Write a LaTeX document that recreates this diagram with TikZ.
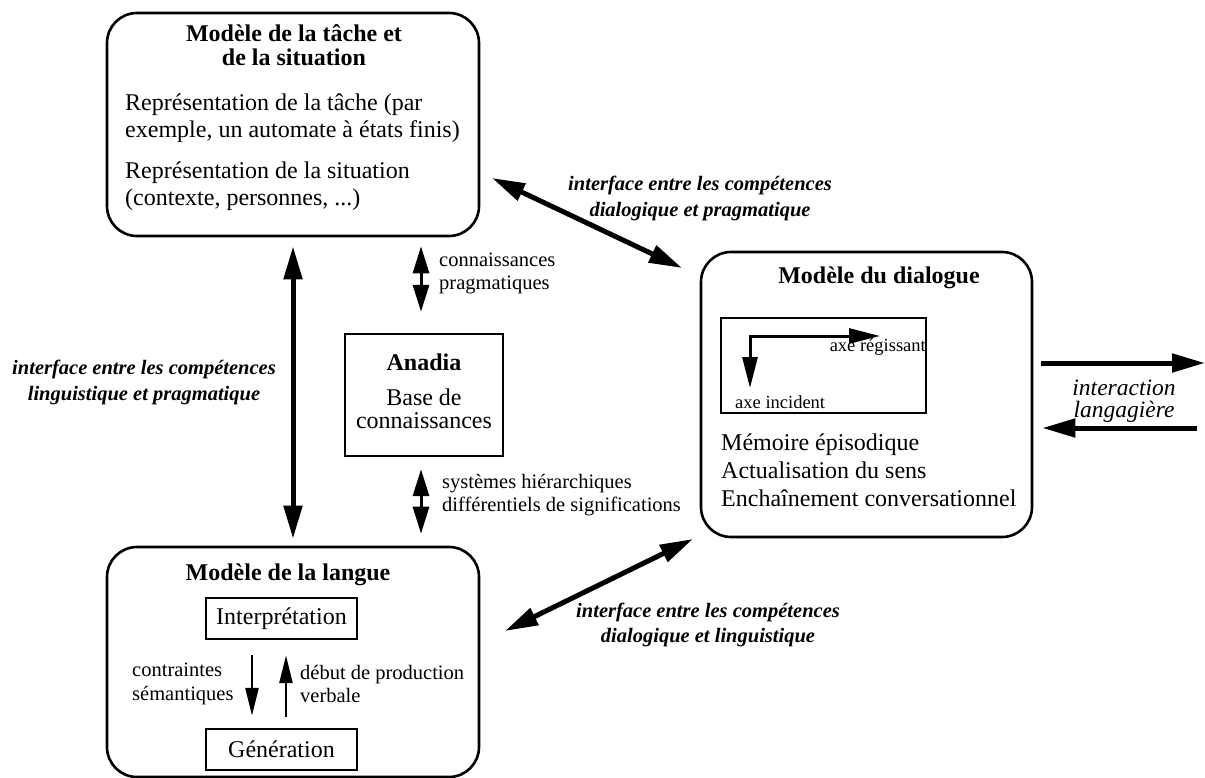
\documentclass[tikz,border=0pt]{standalone}
\usepackage{fontspec}
\setmainfont{Liberation Serif}
\usetikzlibrary{arrows.meta,calc}
\tikzset{
  bigtip/.tip={Triangle[length=33pt,width=18pt]},
  medtip/.tip={Triangle[length=27pt,width=16pt]},
  smalltip/.tip={Triangle[length=28pt,width=13pt]},
  elbtip/.tip={Triangle[length=31pt,width=15pt]},
  rbox/.style={draw, line width=2.6pt, rounded corners=30pt, inner sep=0pt},
  sbox/.style={draw, line width=2.4pt, inner sep=0pt},
  body/.style={inner sep=0pt, font=\fontsize{24}{27}\selectfont, align=left},
  title/.style={inner sep=0pt, font=\fontsize{24}{24}\selectfont\bfseries, align=center},
  small/.style={inner sep=0pt, font=\fontsize{20.5}{23.5}\selectfont, align=left},
  tiny/.style={inner sep=0pt, font=\fontsize{18.5}{20}\selectfont},
  iface/.style={inner sep=0pt, font=\fontsize{20.5}{25.5}\selectfont\bfseries\itshape, align=center},
  bigarr/.style={line width=5pt, bigtip-bigtip},
  medarr/.style={line width=3pt, medtip-medtip},
  smallarr/.style={line width=2.5pt, -smalltip},
  onearr/.style={line width=5pt, -bigtip},
  elbarr/.style={line width=3pt, elbtip-elbtip},
}
\begin{document}
\begin{tikzpicture}[x=1pt,y=-1pt]
\useasboundingbox (0,0) rectangle (1205,778);

% boxes
\node[rbox, minimum width=372pt, minimum height=223pt] (task) at (293,124.5) {};
\node[rbox, minimum width=372pt, minimum height=230pt] (lang) at (293,662) {};
\node[rbox, minimum width=331pt, minimum height=285pt] (dial) at (866.5,394.5) {};
\node[sbox, minimum width=158pt, minimum height=122pt] (anadia) at (424,395) {};
\node[sbox, minimum width=205pt, minimum height=95pt] (axes) at (823.5,365.5) {};
\node[sbox, minimum width=151pt, minimum height=41pt, font=\fontsize{24}{27}\selectfont] (interp) at (281.5,618.5) {Interprétation};
\node[sbox, minimum width=151pt, minimum height=41pt, font=\fontsize{24}{27}\selectfont] (gen) at (281.5,749.5) {Génération};

% task box texts
\node[title] (tasktitle) at (294,45) {Modèle de la tâche et\\de la situation};
\node[body, anchor=west] (taskrep) at (125,118.5) {Représentation de la tâche (par\\exemple, un automate à états finis)};
\node[body, anchor=west] (sitrep) at (125,186.5) {Représentation de la situation\\(contexte, personnes, ...)};

% anadia texts
\node[title] (anadiatitle) at (424,362) {Anadia};
\node[inner sep=0pt, font=\fontsize{24}{23}\selectfont, align=center] (anadiabody) at (424,408.5) {Base de\\connaissances};

% lang texts
\node[title] (langtitle) at (288,575) {Modèle de la langue};
\node[small, anchor=west] (contr) at (132,684) {contraintes\\sémantiques};
\node[small, anchor=west] (debut) at (300,684) {début de production\\verbale};
\draw[smallarr] ($(interp.south -| 252,0)+(0,15)$) -- ($(gen.north -| 252,0)+(0,-12)$);
\draw[smallarr] ($(gen.north -| 286,0)+(0,-11)$) -- ($(interp.south -| 286,0)+(0,15)$);

% dialogue texts
\node[title] (dialtitle) at (879,278) {Modèle du dialogue};
\node[tiny, anchor=east] (regis) at (926,347) {axe régissant};
\node[tiny, anchor=west] (incid) at (735,402) {axe incident};
\coordinate (regtip) at (880,336);
\coordinate (elbow) at (750,336);
\coordinate (inctip) at (750,388);
\draw[elbarr, line join=miter] (regtip) -- (elbow) -- (inctip);
\node[inner sep=0pt, font=\fontsize{24}{28}\selectfont, align=left, anchor=west] (dialbody) at (721,470) {Mémoire épisodique\\Actualisation du sens\\Enchaînement conversationnel};

% vertical connectors
\draw[bigarr] ($(task.south)+(0,9)$) -- ($(lang.north)+(0,-7)$);
\draw[medarr] ($(task.south -| 421,0)+(0,9)$) -- ($(anadia.north -| 421,0)+(0,-21)$);
\draw[medarr] ($(anadia.south -| 421,0)+(0,12)$) -- ($(lang.north -| 421,0)+(0,-12)$);
\node[small, anchor=west] (conn) at (439,273.5) {connaissances\\pragmatiques};
\node[small, anchor=west] (syst) at (442,495) {systèmes hiérarchiques\\différentiels de significations};
\node[iface] (ifaceLP) at (144,382.5) {interface entre les compétences\\linguistique et pragmatique};

% diagonal connectors
\coordinate (tdA) at (492,178);
\coordinate (tdB) at (682,268);
\draw[bigarr] (tdA) -- (tdB);
\node[iface] (ifaceDP) at (700,198.5) {interface entre les compétences\\dialogique et pragmatique};
\coordinate (bdA) at (505,631);
\coordinate (bdB) at (693,539);
\draw[bigarr] (bdA) -- (bdB);
\node[iface] (ifaceDL) at (708,625) {interface entre les compétences\\dialogique et linguistique};

% interaction arrows
\coordinate (outEnd) at (1205,363);
\coordinate (inStart) at (1197,428);
\draw[onearr] ($(dial.east |- outEnd)+(8,0)$) -- (outEnd);
\draw[onearr] (inStart) -- ($(dial.east |- inStart)+(9,0)$);
\node[inner sep=0pt, font=\fontsize{23.5}{22}\selectfont\itshape, align=center] (inter) at (1124,401) {interaction\\langagière};
\end{tikzpicture}
\end{document}
